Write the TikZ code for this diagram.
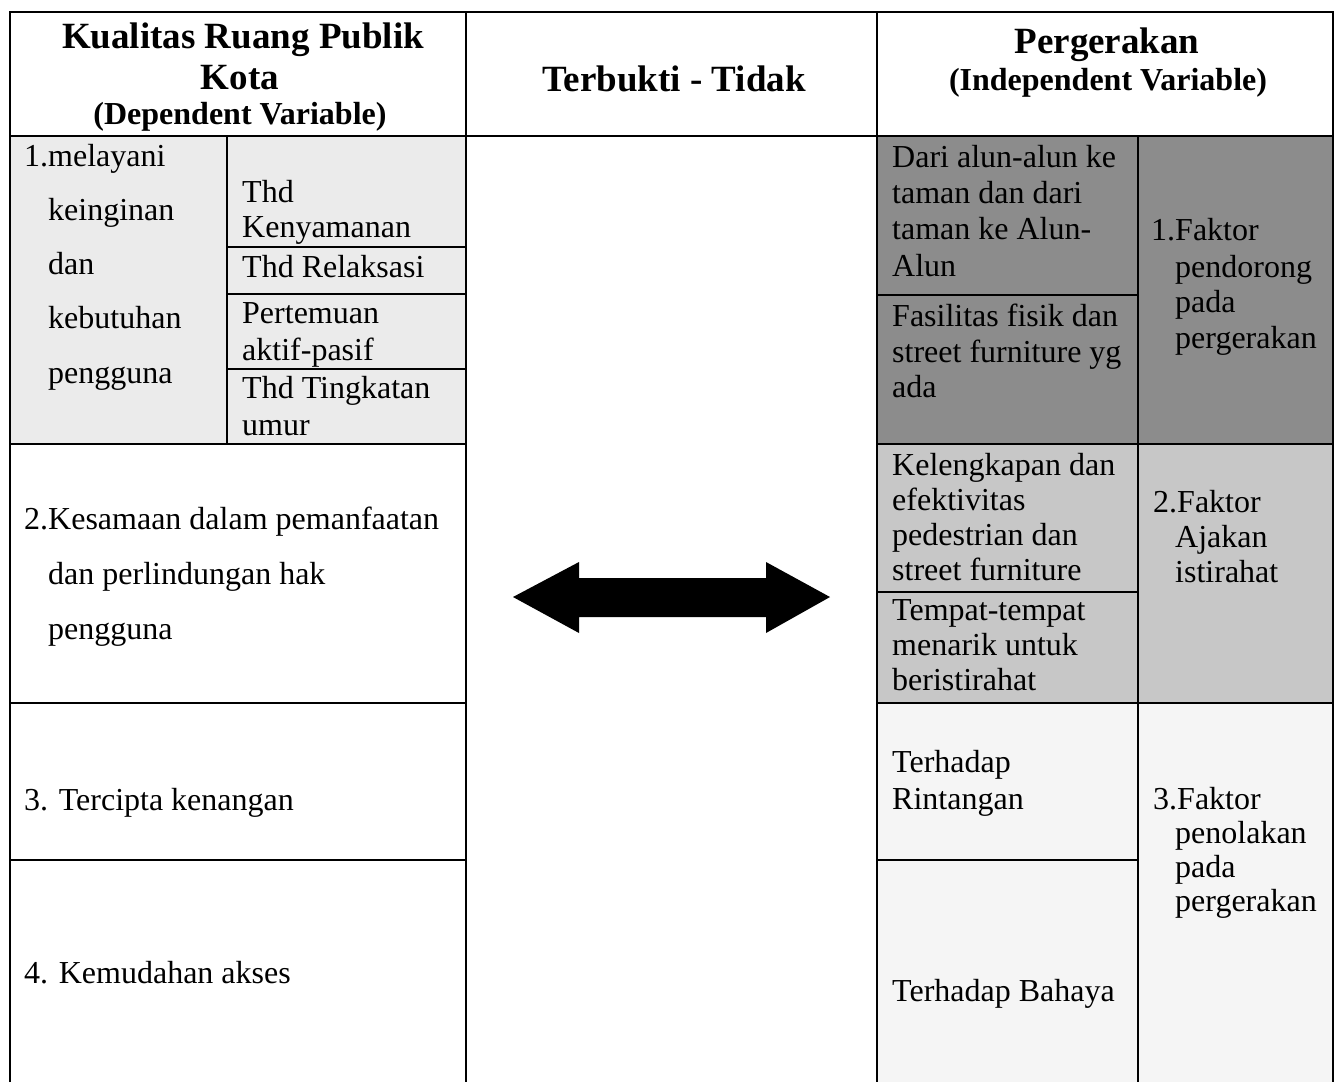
\documentclass[tikz,border=0pt]{standalone}
\usepackage{fontspec}
\setmainfont{Liberation Serif}
\begin{document}
\begin{tikzpicture}[x=1pt,y=-1pt,
  grid/.style={line width=1.6pt,black},
  txt/.style={anchor=base west,inner sep=0pt,font=\fontsize{32}{37}\selectfont},
  ttl/.style={anchor=base,inner sep=0pt,font=\fontsize{37}{41}\selectfont\bfseries},
  sub/.style={anchor=base,inner sep=0pt,font=\fontsize{32}{37}\selectfont\bfseries}]
\useasboundingbox (0,0) rectangle (1335,1082);
\fill[white] (0,0) rectangle (1335,1082);
% shaded cells
\fill[black!8] (10,136) rectangle (466,444);
\fill[black!45] (877,136) rectangle (1333,444);
\fill[black!22] (877,444) rectangle (1333,703);
\fill[black!4] (877,703) rectangle (1333,1082);
% grid
\draw[grid] (10,1082) -- (10,12) -- (1333,12) -- (1333,1082);
\draw[grid] (466,12) -- (466,1082);
\draw[grid] (877,12) -- (877,1082);
\draw[grid] (10,136) -- (1333,136);
\draw[grid] (227,136) -- (227,444);
\draw[grid] (227,247) -- (466,247);
\draw[grid] (227,294) -- (466,294);
\draw[grid] (227,369) -- (466,369);
\draw[grid] (10,444) -- (466,444);
\draw[grid] (10,703) -- (466,703);
\draw[grid] (10,860) -- (466,860);
\draw[grid] (1138,136) -- (1138,1082);
\draw[grid] (877,295) -- (1138,295);
\draw[grid] (877,444) -- (1333,444);
\draw[grid] (877,592) -- (1138,592);
\draw[grid] (877,703) -- (1333,703);
\draw[grid] (877,860) -- (1138,860);
% headers
\node[ttl] (h1a) at (243,48) {Kualitas Ruang Publik};
\node[ttl] (h1b) at (240,89) {Kota};
\node[sub] (h1c) at (240,124) {(Dependent Variable)};
\node[ttl] (h2) at (674,91) {Terbukti - Tidak};
\node[ttl] (h3a) at (1107,53) {Pergerakan};
\node[sub] (h3b) at (1108,90) {(Independent Variable)};
% left column row 1
\node[txt] (l1a) at (24,166) {1.melayani};
\node[txt] (l1b) at (48,220) {keinginan};
\node[txt] (l1c) at (48,274) {dan};
\node[txt] (l1d) at (48,328) {kebutuhan};
\node[txt] (l1e) at (48,383) {pengguna};
\node[txt] (k1a) at (242,202) {Thd};
\node[txt] (k1b) at (242,237) {Kenyamanan};
\node[txt] (k2) at (242,277) {Thd Relaksasi};
\node[txt] (k3a) at (242,323) {Pertemuan};
\node[txt] (k3b) at (242,360) {aktif-pasif};
\node[txt] (k4a) at (242,398) {Thd Tingkatan};
\node[txt] (k4b) at (242,435) {umur};
% left rows 2-4
\node[txt] (l2a) at (24,529) {2.Kesamaan dalam pemanfaatan};
\node[txt] (l2b) at (48,584) {dan perlindungan hak};
\node[txt] (l2c) at (48,639) {pengguna};
\node[txt] (l3) at (24,810) {3. Tercipta kenangan};
\node[txt] (l4) at (24,983) {4. Kemudahan akses};
% right column row 1
\node[txt] (r1a) at (892,167) {Dari alun-alun ke};
\node[txt] (r1b) at (892,203) {taman dan dari};
\node[txt] (r1c) at (892,239) {taman ke Alun-};
\node[txt] (r1d) at (892,276) {Alun};
\node[txt] (r2a) at (892,326) {Fasilitas fisik dan};
\node[txt] (r2b) at (892,362) {street furniture yg};
\node[txt] (r2c) at (892,397) {ada};
\node[txt] (f1a) at (1151,240) {1.Faktor};
\node[txt] (f1b) at (1175,277) {pendorong};
\node[txt] (f1c) at (1175,312) {pada};
\node[txt] (f1d) at (1175,348) {pergerakan};
% right row 2
\node[txt] (r3a) at (892,475) {Kelengkapan dan};
\node[txt] (r3b) at (892,510) {efektivitas};
\node[txt] (r3c) at (892,545) {pedestrian dan};
\node[txt] (r3d) at (892,580) {street furniture};
\node[txt] (r4a) at (892,620) {Tempat-tempat};
\node[txt] (r4b) at (892,655) {menarik untuk};
\node[txt] (r4c) at (892,690) {beristirahat};
\node[txt] (f2a) at (1153,512) {2.Faktor};
\node[txt] (f2b) at (1175,547) {Ajakan};
\node[txt] (f2c) at (1175,582) {istirahat};
% right row 3
\node[txt] (r5a) at (892,772) {Terhadap};
\node[txt] (r5b) at (892,809) {Rintangan};
\node[txt] (r6) at (892,1001) {Terhadap Bahaya};
\node[txt] (f3a) at (1153,809) {3.Faktor};
\node[txt] (f3b) at (1175,843) {penolakan};
\node[txt] (f3c) at (1175,877) {pada};
\node[txt] (f3d) at (1175,911) {pergerakan};
% double arrow
\fill[black] (513,597) -- (579,562) -- (579,578) -- (766,578) -- (766,562) -- (830,597)
  -- (766,633) -- (766,617) -- (579,617) -- (579,633) -- cycle;
\end{tikzpicture}
\end{document}
